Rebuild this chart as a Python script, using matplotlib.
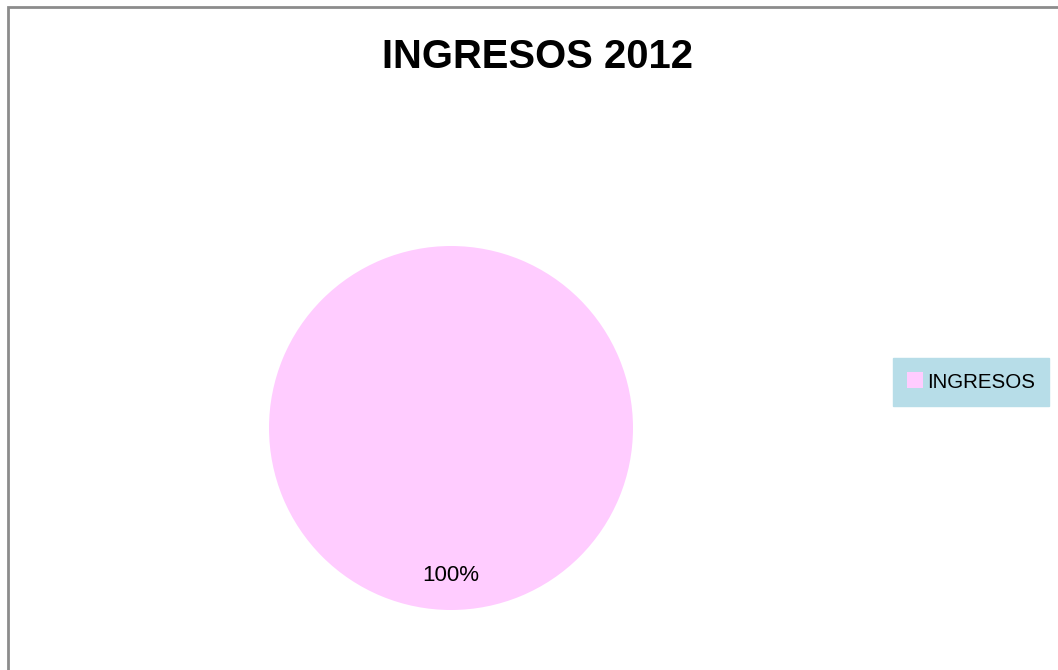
import matplotlib
matplotlib.use("Agg")
import matplotlib.pyplot as plt
from matplotlib.patches import Rectangle

# data
categories = ["INGRESOS"]
values = [100]
colors = ["#ffccff"]
title = "INGRESOS 2012"

plt.rcParams['font.family'] = ['Liberation Sans', 'DejaVu Sans']

W, H = 1058, 670
fig = plt.figure(figsize=(W / 100, H / 100), dpi=100)
fig.patch.set_facecolor("white")

# outer chart border (only left and top visible in the crop)
fig.add_artist(Rectangle((7.5 / W, -0.1), 1.2, (H - 6.5) / H + 0.1,
                         transform=fig.transFigure, fill=False,
                         edgecolor="#8c8c8c", linewidth=2))

# pie axes: center (451, 428) px from top-left, radius 182 px
cx, cy, r = 451, 428, 182
ax = fig.add_axes([(cx - r) / W, (H - cy - r) / H, 2 * r / W, 2 * r / H])
wedges, texts, autotexts = ax.pie(values, colors=colors, startangle=90,
                                  autopct='%1.0f%%', pctdistance=0.81,
                                  radius=1, textprops={'fontsize': 16})
ax.set_xlim(-1, 1)
ax.set_ylim(-1, 1)
ax.set_aspect('auto')
ax.axis('off')

fig.text(537.5 / W, 1 - 57 / H, title, ha='center', va='center',
         fontsize=28.8, fontweight='bold')

leg = fig.legend(wedges, categories, loc='center left',
                 bbox_to_anchor=(893 / W, 1 - 382 / H),
                 fontsize=14.8, frameon=True, fancybox=False,
                 facecolor="#b7dde8", edgecolor="#b7dde8", framealpha=1,
                 handlelength=0.75, handleheight=0.8, handletextpad=0.2,
                 borderpad=0.7, borderaxespad=0)

fig.savefig("out.png", dpi=100)
